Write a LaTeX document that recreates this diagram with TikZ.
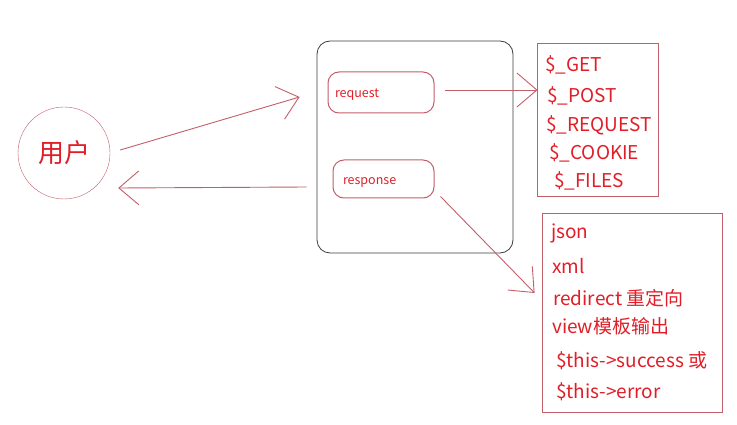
\documentclass[tikz,border=0pt]{standalone}
\usepackage{fontspec}
\setmainfont{Noto Sans CJK SC}
\usetikzlibrary{arrows.meta, calc}
\definecolor{ink_red}{RGB}{225, 30, 40}
\definecolor{rose_line}{RGB}{195, 95, 105}
\definecolor{frame_gray}{RGB}{60, 60, 60}

\begin{document}
\begin{tikzpicture}[
    x=1pt, y=-1pt,
    user/.style={
        circle,
        draw=rose_line,
        minimum size=92pt,
        inner sep=0pt,
        text=ink_red,
        font=\fontsize{26}{30}\selectfont
    },
    server/.style={
        rectangle,
        draw=frame_gray,
        thick,
        rounded corners=13pt,
        minimum width=196pt,
        minimum height=212pt
    },
    action/.style={
        rectangle,
        draw=rose_line,
        line width=1pt,
        rounded corners=11pt,
        text width=#1,
        align=left,
        inner xsep=7pt,
        text depth=3pt,
        text=ink_red,
        font=\fontsize{12.5}{14}\selectfont
    },
    listbox/.style={
        rectangle,
        draw=rose_line,
        thick
    },
    item/.style={
        anchor=base west,
        inner sep=0pt,
        text=ink_red,
        font=\fontsize{19}{22}\selectfont
    },
    link/.style={
        -{Straight Barb[length=20pt,width=34pt]},
        draw=rose_line,
        line width=0.9pt
    }
]
\useasboundingbox[fill=white] (0,0) rectangle (737,425);

% Position the user and the server
\node[user] (user) at (64,153) {用户};
\node[server] (server) at (415,147) {};

% Position the request and response boxes
\node[action=92pt, minimum height=41pt, text height=14pt] (request) at (381,92.5) {request};
\node[action=85pt, minimum height=38pt, text height=15pt, inner xsep=8pt] (response) at (383.5,179) {\hspace*{2pt}response};

% Position the two lists
\node[listbox, minimum width=121pt, minimum height=153pt] (getbox) at (597.5,119.5) {};
\node[listbox, minimum width=180pt, minimum height=199pt] (respbox) at (632,312.5) {};

% Request variables
\node[item] (get) at (545,72) {\$\_GET};
\node[item] (post) at (547,103) {\$\_POST};
\node[item] (req) at (546,132) {\$\_REQUEST};
\node[item] (cookie) at (549,160) {\$\_COOKIE};
\node[item] (files) at (554,188) {\$\_FILES};

% Response kinds
\node[item] (json) at (551,238) {json};
\node[item] (xml) at (552,273) {xml};
\node[item] (redirect) at (553,305) {redirect 重定向};
\node[item] (view) at (552,333) {view模板输出};
\node[item] (success) at (556,367) {\$this->success 或};
\node[item] (error) at (556,398) {\$this->error};

% Draw the arrows
\draw[link] ($(user.east)+(10,-3)$) -- ($(server.west)+(-17,-50)$);
\draw[link] ($(server.west)+(-10,40)$) -- ($(user.east)+(8,35)$);
\draw[link] ($(request.east)+(10,-2.5)$) -- ($(getbox.west)+(1,-29.5)$);
\draw[link] ($(response.south east)+(6,-2)$) -- ($(respbox.west)+(-7,-19.5)$);

\end{tikzpicture}
\end{document}
